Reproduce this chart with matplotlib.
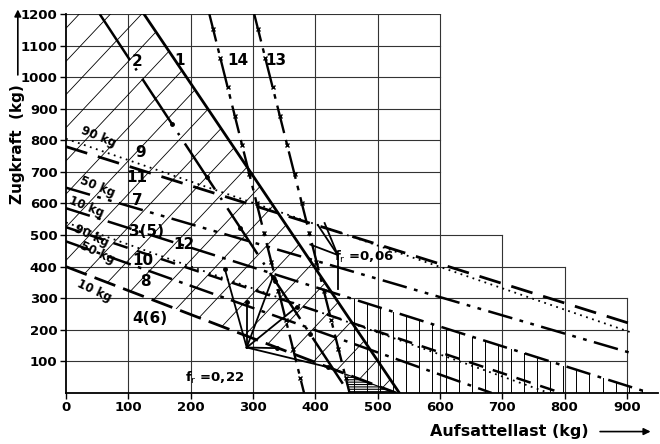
import numpy as np
import matplotlib
matplotlib.use("Agg")
import matplotlib.pyplot as plt
from matplotlib.patches import Polygon, FancyArrowPatch

# line end points (kg)
line1_x, line1_y = [125, 535], [1200, 0]
line2_x, line2_y = [54, 454], [1200, 0]
line14_x, line14_y = [230, 382], [1200, 0]
line13_x, line13_y = [302, 455], [1200, 0]
line9_x, line9_y = [0, 905], [805, 193]
line11_x, line11_y = [0, 913], [780, 215]
line7_x, line7_y = [0, 913], [650, 123]
line3_x, line3_y = [0, 937], [585, 0]
line10_x, line10_y = [0, 795], [525, 0]
line10d_x, line10d_y = [0, 775], [540, 0]
line8_x, line8_y = [0, 683], [480, 0]
line4_x, line4_y = [0, 420, 530], [400, 82, 0]

# construction fans
fr_point = (290, 144)
fr_targets = [(255, 392), (290, 288), (332, 367), (370, 272), (338, 142), (420, 82)]
ft_point = (436, 437)
ft_targets = [(404, 532), (415, 538), (392, 470), (436, 330)]
line2_dots_x = [170, 226, 280, 336, 392]

x_ticks = [0, 100, 200, 300, 400, 500, 600, 700, 800, 900]
y_ticks = [100, 200, 300, 400, 500, 600, 700, 800, 900, 1000, 1100, 1200]
# grid reaches to these x limits for each horizontal level (stepped frame)
grid_reach = {100: 900, 200: 900, 300: 900, 400: 800, 500: 700, 600: 600, 700: 600,
              800: 600, 900: 600, 1000: 600, 1100: 600, 1200: 600}
vgrid_top = {100: 1200, 200: 1200, 300: 1200, 400: 1200, 500: 1200, 600: 1200,
             700: 500, 800: 400, 900: 300}

fig = plt.figure(figsize=(6.6, 4.44), dpi=100)
ax = fig.add_axes([0.1, 0.1149, 0.897, 0.8536])
ax.set_xlim(0, 950)
ax.set_ylim(0, 1200)
for s in ["top", "right"]:
    ax.spines[s].set_visible(False)
ax.spines["left"].set_linewidth(1.3)
ax.spines["bottom"].set_linewidth(1.3)

# stepped grid
for yv, xr in grid_reach.items():
    ax.plot([0, xr], [yv, yv], color="#333333", lw=0.8, zorder=1)
for xv, yt in vgrid_top.items():
    ax.plot([xv, xv], [0, yt], color="#333333", lw=0.8, zorder=1)

# diagonal hatching, clipped to the region left of line 1 and above line 4(6)
clip = Polygon([(0, 400), (0, 1200), (125, 1200), (535, 0), (530, 0), (420, 82)],
               transform=ax.transData, facecolor="none", edgecolor="none")
ax.add_patch(clip)
for c in np.arange(-600, 560, 50):
    xs = np.array([c, c + 1200 / 2.1])
    ln, = ax.plot(xs, 2.1 * (xs - c), color="black", lw=0.6, zorder=2)
    ln.set_clip_path(clip)

# vertical hatching under line 3(5)
k3 = (line3_y[1] - line3_y[0]) / (line3_x[1] - line3_x[0])
for xv in np.arange(462, 925, 21):
    ax.plot([xv, xv], [0, line3_y[0] + k3 * xv], color="black", lw=0.7, zorder=2)

# hatched triangle at the bottom
plt.rcParams["hatch.linewidth"] = 0.8
ax.add_patch(Polygon([(447, 61), (455, 0), (530, 0)], closed=True, facecolor="none",
                     edgecolor="black", hatch="-------", lw=0.8, zorder=3))

# main lines
ax.plot(line1_x, line1_y, color="black", lw=2.0, zorder=4)
ax.plot(line2_x, line2_y, color="black", lw=1.8, ls=(0, (22, 4, 1, 4)), zorder=4)
k2 = (line2_y[1] - line2_y[0]) / (line2_x[1] - line2_x[0])
ax.plot(line2_dots_x, [line2_y[0] + k2 * (x - line2_x[0]) for x in line2_dots_x],
        "o", color="black", ms=2.5, zorder=4)
for lx, ly in [(line14_x, line14_y), (line13_x, line13_y)]:
    ax.plot(lx, ly, color="black", lw=1.7, ls=(0, (12, 3, 2, 3)), zorder=4)
    t = np.linspace(0.04, 0.96, 13)
    ax.plot(lx[0] + t * (lx[1] - lx[0]), ly[0] + t * (ly[1] - ly[0]), "x",
            color="black", ms=3, mew=1, zorder=4)

ax.plot(line9_x, line9_y, color="black", lw=1.3, ls=(0, (1, 2.5)), zorder=4)
ax.plot(line11_x, line11_y, color="black", lw=2.0, ls=(0, (8, 4)), zorder=4)
ax.plot(line7_x, line7_y, color="black", lw=1.8, ls=(0, (10, 3, 1.5, 3, 1.5, 3)), zorder=4)
ax.plot(line3_x, line3_y, color="black", lw=1.8, ls=(0, (10, 3, 1.5, 3)), zorder=4)
ax.plot(line10_x, line10_y, color="black", lw=1.8, ls=(0, (6, 4)), zorder=4)
ax.plot(line10d_x, line10d_y, color="black", lw=1.3, ls=(0, (1, 2.5)), zorder=4)
ax.plot(line8_x, line8_y, color="black", lw=1.8, ls=(0, (10, 3, 1.5, 3)), zorder=4)
ax.plot(line4_x, line4_y, color="black", lw=2.0, ls=(0, (8, 3)), zorder=4)

# construction fans
for tx, ty in fr_targets:
    ax.plot([fr_point[0], tx], [fr_point[1], ty], color="black", lw=1.3, zorder=4)
    ax.plot(tx, ty, "o", color="black", ms=2.5, zorder=4)
for tx, ty in ft_targets:
    ax.plot([ft_point[0], tx], [ft_point[1], ty], color="black", lw=1.3, zorder=4)

# ticks
ax.set_xticks(x_ticks)
ax.set_yticks(y_ticks)
ax.tick_params(direction="out", length=4, width=1, labelsize=9.5, pad=2)
for lab in ax.get_xticklabels() + ax.get_yticklabels():
    lab.set_fontweight("bold")

# line labels
txt = dict(fontsize=11, fontweight="bold", ha="center", va="center", zorder=6)
for s, x, y in [("2", 114, 1048), ("1", 183, 1054), ("14", 276, 1054), ("13", 337, 1054),
                ("9", 119, 763), ("11", 114, 683), ("7", 114, 611), ("3(5)", 129, 512),
                ("12", 190, 469), ("10", 124, 418), ("8", 127, 352), ("4(6)", 134, 237)]:
    ax.text(x, y, s, **txt)
kg = dict(fontsize=8.5, fontweight="bold", ha="center", va="center", zorder=6)
for s, x, y, r in [("90 kg", 52, 812, -22), ("50 kg", 50, 652, -22), ("10 kg", 33, 590, -22),
                   ("90 kg", 40, 497, -25), ("50 kg", 50, 445, -25), ("10 kg", 45, 322, -25)]:
    ax.text(x, y, s, rotation=r, **kg)
ax.text(238, 48, r"f$_\mathrm{r}$ =0,22", fontsize=9.5, fontweight="bold", ha="center", va="center")
ax.text(478, 430, r"f$_\mathrm{r}$ =0,06", fontsize=9.5, fontweight="bold", ha="center", va="center")

# axis titles with arrows
fig.text(0.027, 0.675, "Zugkraft  (kg)", rotation=90, fontsize=11, fontweight="bold",
         ha="center", va="center")
fig.add_artist(FancyArrowPatch((0.027, 0.825), (0.027, 0.985), transform=fig.transFigure,
                               arrowstyle="-|>", mutation_scale=10, lw=1.2, color="black"))
fig.text(0.772, 0.028, "Aufsattellast (kg)", fontsize=11.5, fontweight="bold",
         ha="center", va="center")
fig.add_artist(FancyArrowPatch((0.905, 0.028), (0.99, 0.028), transform=fig.transFigure,
                               arrowstyle="-|>", mutation_scale=10, lw=1.2, color="black"))

fig.savefig("out.png", dpi=100)
